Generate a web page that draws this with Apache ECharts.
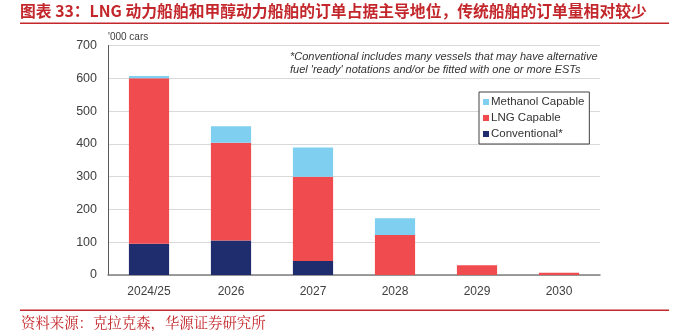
<!DOCTYPE html>
<html>
<head>
<meta charset="utf-8">
<script src="https://cdn.jsdelivr.net/npm/echarts@6/dist/echarts.min.js"></script>
<style>
html,body{margin:0;padding:0;background:#fff;}
#c{width:680px;height:331px;}
</style>
</head>
<body>
<div id="c"></div>
<script>
const categories = ['2024/25', '2026', '2027', '2028', '2029', '2030'];
const conventional = [95, 105, 43, 0, 0, 0];
const lng = [505, 298, 257, 122, 30, 7];
const methanol = [7, 51, 89, 51, 0, 0];
const yTicks = [0, 100, 200, 300, 400, 500, 600, 700];

const chart = echarts.init(document.getElementById('c'), null, {renderer: 'canvas'});
const red = '#c3272b';
chart.setOption({
  animation: false,
  backgroundColor: '#fff',
  grid: {left: 108, right: 80, top: 45.5, bottom: 56},
  xAxis: {
    type: 'category',
    data: categories,
    axisLine: {lineStyle: {color: '#7f7f7f', width: 1.5}},
    axisTick: {show: false},
    axisLabel: {color: '#404040', fontSize: 12, fontFamily: 'Liberation Sans, Arial', margin: 11}
  },
  yAxis: {
    type: 'value',
    min: yTicks[0], max: yTicks[yTicks.length - 1], interval: 100,
    axisLine: {show: true, lineStyle: {color: '#595959', width: 1}},
    axisTick: {show: false},
    splitLine: {lineStyle: {color: '#d9d9d9', width: 1}},
    axisLabel: {color: '#404040', fontSize: 12.5, fontFamily: 'Liberation Sans, Arial', margin: 11}
  },
  legend: {
    data: ['Methanol Capable', 'LNG Capable', 'Conventional*'],
    orient: 'vertical',
    left: 479, top: 92,
    width: 110,
    itemWidth: 6, itemHeight: 6, itemGap: 4,
    icon: 'rect',
    borderColor: '#404040', borderWidth: 1,
    backgroundColor: '#fff',
    padding: [4, 5, 4, 4],
    textStyle: {fontSize: 11.5, color: '#333', fontFamily: 'Liberation Sans, Arial', lineHeight: 12, padding: [0, 0, 0, -3]},
    selectedMode: false
  },
  series: [
    {name: 'Conventional*', type: 'bar', stack: 's', data: conventional, barWidth: '49%', itemStyle: {color: '#1f2d6e'}},
    {name: 'LNG Capable', type: 'bar', stack: 's', data: lng, itemStyle: {color: '#f04b4f'}},
    {name: 'Methanol Capable', type: 'bar', stack: 's', data: methanol, itemStyle: {color: '#7fd0f0'}}
  ],
  graphic: [
    {type: 'text', left: 20, top: 3, style: {text: '图表 33：LNG 动力船舶和甲醇动力船舶的订单占据主导地位，传统船舶的订单量相对较少', fill: red, font: 'bold 15.8px "Noto Sans CJK SC"'}},
    {type: 'rect', shape: {x: 20, y: 22.5, width: 649, height: 1.5}, style: {fill: red}},
    {type: 'text', left: 108, top: 32, style: {text: "'000 cars", fill: '#404040', font: '10px "Liberation Sans", Arial'}},
    {type: 'text', left: 290, top: 50, style: {text: "*Conventional includes many vessels that may have alternative\nfuel 'ready' notations and/or be fitted with one or more ESTs", fill: '#333', font: 'italic 11px "Liberation Sans", Arial', lineHeight: 13.5}},
    {type: 'rect', shape: {x: 20, y: 309.5, width: 649, height: 1.5}, style: {fill: red}},
    {type: 'text', left: 21, top: 315, style: {text: '资料来源：克拉克森，华源证券研究所', fill: red, font: '14.4px "Noto Serif CJK SC", "Noto Sans CJK SC"'}}
  ]
});
</script>
</body>
</html>
